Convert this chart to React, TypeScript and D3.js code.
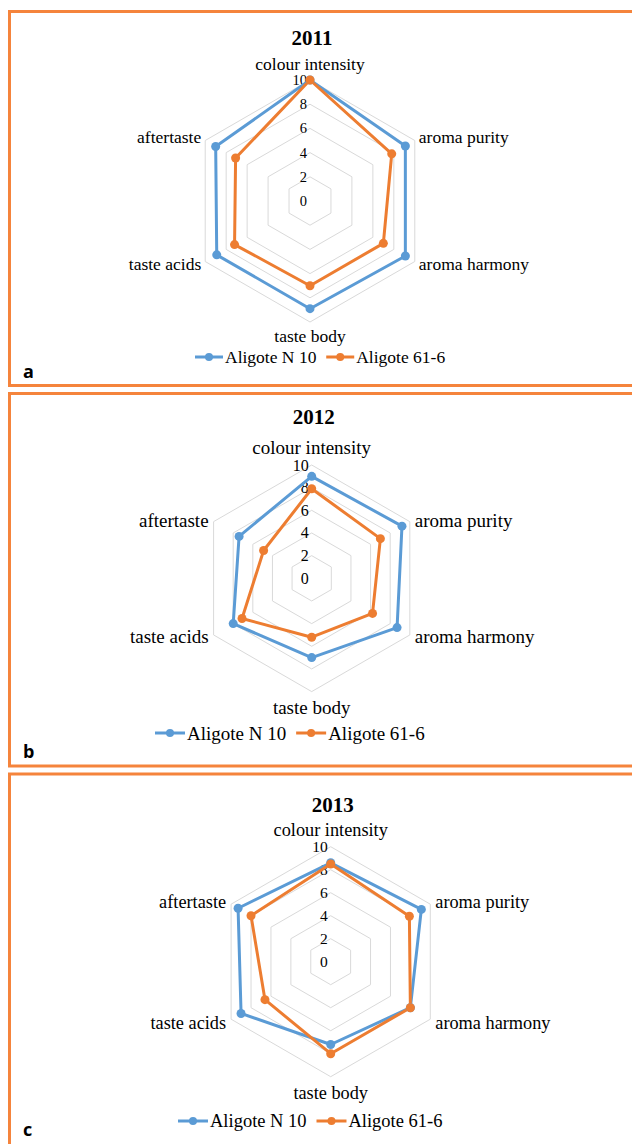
import React from "react";
import * as d3 from "d3";

// axes of the radar, clockwise from the top
const categories = [
  "colour intensity",
  "aroma purity",
  "aroma harmony",
  "taste body",
  "taste acids",
  "aftertaste",
];
const years = ["2011", "2012", "2013"];
const panelLetters = ["a", "b", "c"];
const seriesNames = ["Aligote N 10", "Aligote 61-6"];
const tickValues = [0, 2, 4, 6, 8, 10];

// one row per year, values in category order
const aligoteN10 = [
  [10, 9.1, 9.1, 8.9, 8.9, 9.0],
  [9.0, 9.2, 8.7, 7.0, 8.0, 7.4],
  [8.6, 9.1, 8.0, 7.2, 9.0, 9.3],
];
const aligote616 = [
  [10, 7.8, 7.0, 7.0, 7.2, 7.1],
  [7.9, 7.0, 6.2, 5.2, 7.1, 4.9],
  [8.5, 7.9, 8.0, 8.0, 6.6, 8.0],
];

const colors = ["#5b9bd5", "#ed7d31"];
const borderColor = "#f5843c";
const serif = "'Liberation Serif', 'Times New Roman', serif";

// panel geometry
const layout = [
  { top: 11.5, bottom: 385.5, cx: 310, cy: 201, r: 121, font: 17.5, tickFont: 14.5, titleFont: 21, titleY: 45, legendX: 195, legendY: 357, legendFont: 17.5, lineLen: 28, gapTop: 16, gapBottom: 14, gapSide: 4, dyUp: 3.5, dyDown: 2.5 },
  { top: 393.5, bottom: 766, cx: 311.7, cy: 578.3, r: 113.3, font: 19, tickFont: 16, titleFont: 21, titleY: 424, legendX: 155, legendY: 733, legendFont: 19, lineLen: 30, gapTop: 17.5, gapBottom: 16, gapSide: 5, dyUp: 1.6, dyDown: 2 },
  { top: 774, bottom: 1160, cx: 330.7, cy: 961.7, r: 115, font: 18.3, tickFont: 15.5, titleFont: 21, titleY: 812, legendX: 178, legendY: 1121, legendFont: 18.5, lineLen: 30, gapTop: 17, gapBottom: 16, gapSide: 5, dyUp: 2, dyDown: 4 },
];

const angle = d3
  .scaleLinear()
  .domain([0, categories.length])
  .range([0, 2 * Math.PI]);

const Panel = ({ idx }: { idx: number }) => {
  const L = layout[idx];
  const rScale = d3.scaleLinear().domain([0, 10]).range([0, L.r]);
  const radial = d3
    .lineRadial<number>()
    .angle((_, i) => angle(i))
    .radius((d) => rScale(d))
    .curve(d3.curveLinearClosed);
  const series = [aligoteN10[idx], aligote616[idx]];
  const pt = (v: number, i: number) => [
    L.cx + rScale(v) * Math.sin(angle(i)),
    L.cy - rScale(v) * Math.cos(angle(i)),
  ];

  // legend item width from the Times metrics of "Aligote N 10"
  const textW = L.legendFont * 5.27;
  return (
    <g>
      <rect
        x={9.5}
        y={L.top}
        width={640}
        height={L.bottom - L.top}
        fill="none"
        stroke={borderColor}
        strokeWidth={3}
      />
      <text
        x={L.cx + 2}
        y={L.titleY}
        textAnchor="middle"
        fontFamily={serif}
        fontWeight="bold"
        fontSize={L.titleFont}
      >
        {years[idx]}
      </text>
      <g transform={`translate(${L.cx},${L.cy})`}>
        {tickValues.slice(1).map((t) => (
          <path
            key={t}
            d={radial(categories.map(() => t)) || ""}
            fill="none"
            stroke="#d9d9d9"
            strokeWidth={1}
          />
        ))}
      </g>
      {tickValues.map((t) => (
        <text
          key={t}
          x={L.cx - 3}
          y={L.cy - rScale(t)}
          textAnchor="end"
          dominantBaseline="central"
          fontFamily={serif}
          fontSize={L.tickFont}
        >
          {t}
        </text>
      ))}
      <g transform={`translate(${L.cx},${L.cy})`}>
        {series.map((vals, s) => (
          <path
            key={s}
            d={radial(vals) || ""}
            fill="none"
            stroke={colors[s]}
            strokeWidth={3}
            strokeLinejoin="round"
          />
        ))}
      </g>
      {series.map((vals, s) =>
        vals.map((v, i) => {
          const [x, y] = pt(v, i);
          return <circle key={`${s}-${i}`} cx={x} cy={y} r={4.5} fill={colors[s]} />;
        })
      )}
      {categories.map((c, i) => {
        const a = angle(i);
        const s = Math.sin(a);
        const co = Math.cos(a);
        let x = L.cx + L.r * s;
        let y = L.cy - L.r * co;
        let anchor = "middle";
        if (i === 0) y -= L.gapTop;
        else if (i === 3) y += L.gapBottom;
        else {
          x += s > 0 ? L.gapSide : -L.gapSide;
          y += co > 0 ? -L.dyUp : L.dyDown;
          anchor = s > 0 ? "start" : "end";
        }
        return (
          <text
            key={c}
            x={x}
            y={y}
            textAnchor={anchor}
            dominantBaseline="central"
            fontFamily={serif}
            fontSize={L.font}
          >
            {c}
          </text>
        );
      })}
      {seriesNames.map((name, s) => {
        const x0 = L.legendX + s * (L.lineLen + 2 + textW + 9);
        return (
          <g key={name}>
            <line
              x1={x0}
              x2={x0 + L.lineLen}
              y1={L.legendY}
              y2={L.legendY}
              stroke={colors[s]}
              strokeWidth={3}
            />
            <circle cx={x0 + L.lineLen / 2} cy={L.legendY} r={4} fill={colors[s]} />
            <text
              x={x0 + L.lineLen + 2}
              y={L.legendY}
              dominantBaseline="central"
              fontFamily={serif}
              fontSize={L.legendFont}
            >
              {name}
            </text>
          </g>
        );
      })}
      <text
        x={23}
        y={Math.min(L.bottom, 1144) - 8}
        fontFamily="'Open Sans', sans-serif"
        fontWeight="bold"
        fontSize={18}
      >
        {panelLetters[idx]}
      </text>
    </g>
  );
};

export default function App() {
  return (
    <svg
      width={632}
      height={1144}
      style={{ position: "absolute", left: 0, top: 0, background: "#fff" }}
    >
      {years.map((y, i) => (
        <Panel key={y} idx={i} />
      ))}
    </svg>
  );
}
